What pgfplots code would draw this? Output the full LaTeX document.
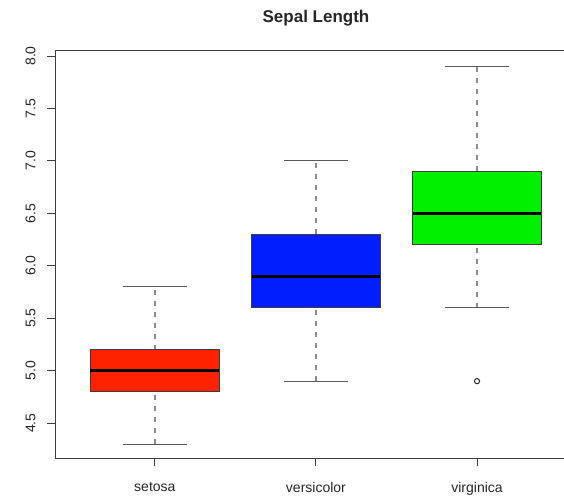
\documentclass[border=0pt]{standalone}
\usepackage{pgfplots}
\pgfplotsset{compat=1.18}
\usepackage{fontspec}
\setmainfont{Liberation Sans}

\definecolor{boxred}{RGB}{255,34,0}
\definecolor{boxblue}{RGB}{0,30,255}
\definecolor{boxgreen}{RGB}{0,240,0}
\definecolor{framegray}{RGB}{60,60,60}
\definecolor{whiskgray}{RGB}{140,140,140}
\definecolor{capgray}{RGB}{90,90,90}

% five-number summaries: min, Q1, median, Q3, max
\newcommand{\drawbox}[7]{%
  % #1 position, #2 fill, #3 min, #4 q1, #5 median, #6 q3, #7 max
  \addplot[whiskgray, line width=1.3pt, dash pattern=on 5pt off 6pt]
    coordinates {(#1,#6) (#1,#7)};
  \addplot[whiskgray, line width=1.3pt, dash pattern=on 5pt off 6pt]
    coordinates {(#1,#3) (#1,#4)};
  \addplot[capgray, line width=1pt]
    coordinates {(#1-0.2,#7) (#1+0.2,#7)};
  \addplot[capgray, line width=1pt]
    coordinates {(#1-0.2,#3) (#1+0.2,#3)};
  \addplot[fill=#2, draw=framegray, line width=0.9pt]
    coordinates {(#1-0.4,#4) (#1+0.4,#4) (#1+0.4,#6) (#1-0.4,#6) (#1-0.4,#4)} -- cycle;
  \addplot[black, line width=3pt]
    coordinates {(#1-0.4,#5) (#1+0.4,#5)};
}

\begin{document}
\begin{tikzpicture}[x=1pt,y=1pt]
\useasboundingbox (-55,-39) rectangle (509,458);
\begin{axis}[
  at={(0,0)}, anchor=south west,
  scale only axis,
  width=509pt, height=407pt,
  xmin=0.38, xmax=3.54,
  ymin=4.167, ymax=8.048,
  axis x line*=box, axis y line*=left,
  axis line style={framegray, line width=1pt},
  xtick={1,2,3},
  xticklabels={setosa,versicolor,virginica},
  ytick={4.5,5.0,...,8.0},
  yticklabel style={rotate=90, anchor=south, /pgf/number format/fixed,
    /pgf/number format/fixed zerofill, /pgf/number format/precision=1},
  /pgf/number format/assume math mode=true,
  tick align=outside,
  major tick length=8pt,
  tick style={framegray, line width=1pt},
  x tick style={draw=framegray},
  xtick pos=bottom, ytick pos=left,
  ticklabel style={font=\fontsize{14}{16}\selectfont, text=black!85},
  xticklabel style={yshift=-13pt},
  % labels are turned, so this shift moves them leftwards
  yticklabel style={yshift=8pt},
  clip=false,
]
\drawbox{1}{boxred}{4.3}{4.8}{5.0}{5.2}{5.8}
\drawbox{2}{boxblue}{4.9}{5.6}{5.9}{6.3}{7.0}
\drawbox{3}{boxgreen}{5.6}{6.2}{6.5}{6.9}{7.9}
% outlier
\addplot[only marks, mark=o, mark size=2.6pt, mark options={line width=1pt, draw=black!85}]
  coordinates {(3,4.9)};
\end{axis}
\node[font=\fontsize{17}{20}\selectfont\bfseries, text=black!85] at (261,440) {Sepal Length};
\end{tikzpicture}
\end{document}
